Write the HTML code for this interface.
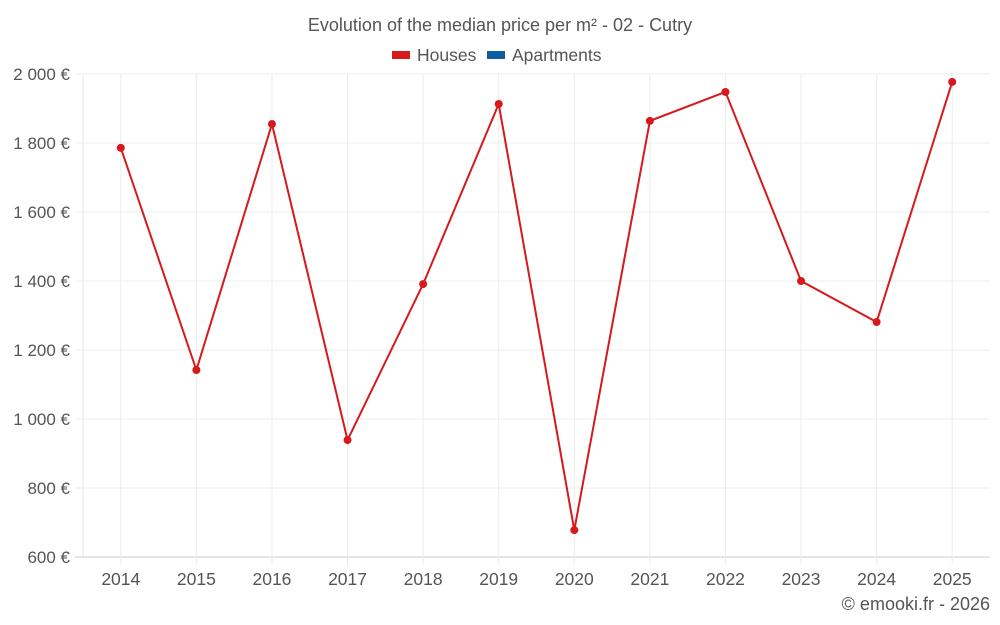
<!DOCTYPE html>
<html><head><meta charset="utf-8">
<style>
html,body{margin:0;padding:0;background:#fff;width:1000px;height:625px;overflow:hidden}
svg{display:block;font-family:"Liberation Sans",sans-serif}
</style></head>
<body>
<svg id="chart" width="1000" height="625" viewBox="0 0 1000 625">
<text x="500" y="31" text-anchor="middle" font-size="18" fill="#555">Evolution of the median price per m² - 02 - Cutry</text>
<g>
<g><rect x="392" y="51" width="18" height="8" fill="#d7191c"/><text x="417" y="61" font-size="17.5" fill="#555">Houses</text></g>
<g><rect x="487" y="51" width="18" height="8" fill="#0b5fa0"/><text x="512" y="61" font-size="17.5" fill="#555">Apartments</text></g>
</g>
<g id="grid"></g>
<g id="yaxis"></g>
<g id="xaxis"></g>
<g id="series"></g>
<text x="990" y="610" text-anchor="end" font-size="18" fill="#555">© emooki.fr - 2026</text>
</svg>
<script>
const years = ["2014","2015","2016","2017","2018","2019","2020","2021","2022","2023","2024","2025"];
const houses = [1786,1142,1855,939,1391,1913,678,1864,1948,1400,1281,1977];
const yTicks = [600,800,1000,1200,1400,1600,1800,2000];
const yTickLabels = ["600 €","800 €","1 000 €","1 200 €","1 400 €","1 600 €","1 800 €","2 000 €"];

const L=83,R=990,T=74,B=557,yMin=600,yMax=2000;
const ns="http://www.w3.org/2000/svg";
const bw=(R-L)/years.length;
const x=i=>L+bw*(i+0.5);
const y=v=>B-(v-yMin)/(yMax-yMin)*(B-T);
function mk(tag,attrs,parent){const e=document.createElementNS(ns,tag);for(const k in attrs)e.setAttribute(k,attrs[k]);parent.appendChild(e);return e;}
const grid=document.getElementById('grid'),ya=document.getElementById('yaxis'),xa=document.getElementById('xaxis'),se=document.getElementById('series');
const ax=mk('line',{x1:L,x2:L,y1:T,y2:B,stroke:'#e6e6e6','stroke-width':1},grid);


yTicks.forEach((t,i)=>{
  const l=mk('line',{x1:L-8,x2:R,y1:y(t),y2:y(t),stroke:t===yMin?'#ccc':'#ececec','stroke-width':1},grid);
  
  
  const tx=mk('text',{x:70,y:y(t)+6,'text-anchor':'end','font-size':17,fill:'#555'},ya);
  tx.textContent=yTickLabels[i];
  
  
});
years.forEach((yr,i)=>{
  const l=mk('line',{x1:x(i),x2:x(i),y1:T,y2:B+8,stroke:'#ececec','stroke-width':1},grid);
  
  
  const tx=mk('text',{x:x(i),y:585,'text-anchor':'middle','font-size':17.5,fill:'#555'},xa);
  tx.textContent=yr;
  
  
});
const pl=mk('polyline',{points:houses.map((v,i)=>x(i)+','+y(v)).join(' '),fill:'none',stroke:'#d7191c','stroke-width':2},se);


houses.forEach((v,i)=>{
  const c=mk('circle',{cx:x(i),cy:y(v),r:4,fill:'#d7191c'},se);
  
  
});
</script>
</body></html>
